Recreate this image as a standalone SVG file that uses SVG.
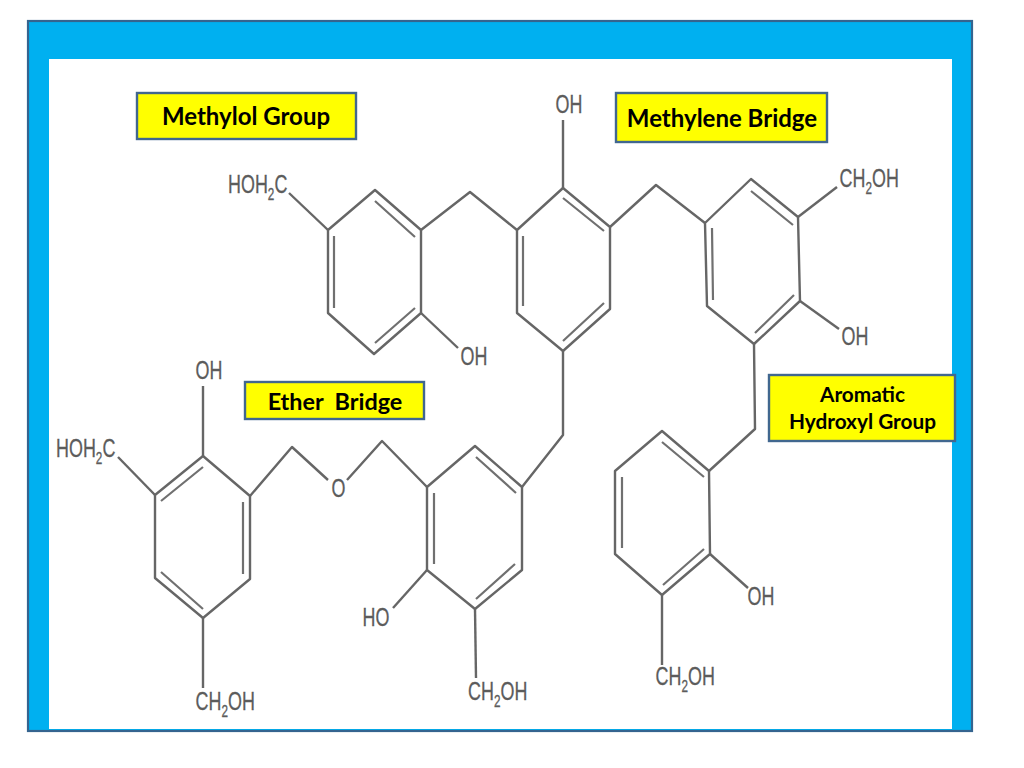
<svg xmlns="http://www.w3.org/2000/svg" width="1024" height="768" viewBox="0 0 1024 768">
<style>
.ring{fill:none;stroke:#666;stroke-width:2.4;stroke-linejoin:round}
.inner{fill:none;stroke:#707070;stroke-width:2.2}
.bond{fill:none;stroke:#666;stroke-width:2.4;stroke-linejoin:round}
.chem{font-family:"Liberation Sans",Arial,sans-serif;font-size:26px;fill:#5c5c5c;stroke:#5c5c5c;stroke-width:.3}
.sub{font-size:17px}
.box{fill:#ffff00;stroke:#41678f;stroke-width:2.4}
.tag{font-family:Lato,"Liberation Sans",sans-serif;font-weight:700;fill:#000;text-anchor:middle}
</style>
<rect id="frame" x="28" y="21" width="944" height="710" fill="#00b0f0" stroke="#35648f" stroke-width="2.2"/>
<rect id="panel" x="49" y="59" width="903" height="670" fill="#fff"/>

<g id="connectors">
<path class="bond" d="M289 193L328 230"/>
<path class="bond" d="M421 230L470 192L517 230"/>
<path class="bond" d="M421 313L458 348"/>
<path class="bond" d="M563 120V188"/>
<path class="bond" d="M610 227L656 185L705 223"/>
<path class="bond" d="M798 217L837 187"/>
<path class="bond" d="M800 301L839 329"/>
<path class="bond" d="M754 344L755 429L709 471"/>
<path class="bond" d="M710 554L748 588"/>
<path class="bond" d="M662 595V665"/>
<path class="bond" d="M563 351V435L522 487"/>
<path class="bond" d="M427 570L393 608"/>
<path class="bond" d="M475 609L476 678"/>
<path class="bond" d="M427 487L382 441L347 480"/>
<path class="bond" d="M250 496L292 447L328 480"/>
<path class="bond" d="M203 386V456"/>
<path class="bond" d="M118 457L155 495"/>
<path class="bond" d="M203 618V688"/>
</g>

<g id="ring-a">
<polygon class="ring" points="375,190 421,230 421,313 374,354 328,313 328,230"/>
<path class="inner" d="M375 201L415 237M334 236V308M375 343L415 308"/>
</g>
<g id="ring-b">
<polygon class="ring" points="563,188 610,227 610,309 563,351 517,313 517,230"/>
<path class="inner" d="M563 198L604 231M523 236V306M563 341L604 303"/>
</g>
<g id="ring-c">
<polygon class="ring" points="751,179 798,217 800,301 754,344 707,306 705,223"/>
<path class="inner" d="M751 191L793 225M712 228L713 300M755 333L794 295"/>
</g>
<g id="ring-d">
<polygon class="ring" points="662,431 709,471 710,554 662,595 615,554 615,471"/>
<path class="inner" d="M662 442L704 477M622 477V548M663 585L704 549"/>
</g>
<g id="ring-e">
<polygon class="ring" points="475,446 522,487 522,570 475,609 427,570 427,487"/>
<path class="inner" d="M476 457L516 493M434 493V564M476 599L515 564"/>
</g>
<g id="ring-f">
<polygon class="ring" points="203,456 250,496 250,579 203,618 155,578 155,495"/>
<path class="inner" d="M203 467L161 501M243 502V574M161 572L203 609"/>
</g>

<g id="atom-labels">
<text class="chem" transform="translate(555.500 113) scale(.69 1)">OH</text>
<text class="chem" transform="translate(228 193) scale(.69 1)">HOH<tspan class="sub" dy="7">2</tspan><tspan dy="-7">C</tspan></text>
<text class="chem" transform="translate(460.500 365) scale(.69 1)">OH</text>
<text class="chem" transform="translate(839.500 187) scale(.69 1)">CH<tspan class="sub" dy="7">2</tspan><tspan dy="-7">OH</tspan></text>
<text class="chem" transform="translate(841.500 345) scale(.69 1)">OH</text>
<text class="chem" transform="translate(195.500 379) scale(.69 1)">OH</text>
<text class="chem" transform="translate(56 457) scale(.69 1)">HOH<tspan class="sub" dy="7">2</tspan><tspan dy="-7">C</tspan></text>
<text class="chem" transform="translate(195.500 710) scale(.69 1)">CH<tspan class="sub" dy="7">2</tspan><tspan dy="-7">OH</tspan></text>
<text class="chem" transform="translate(331.500 497) scale(.69 1)">O</text>
<text class="chem" transform="translate(362.500 626) scale(.69 1)">HO</text>
<text class="chem" transform="translate(468 700) scale(.69 1)">CH<tspan class="sub" dy="7">2</tspan><tspan dy="-7">OH</tspan></text>
<text class="chem" transform="translate(655.500 685) scale(.69 1)">CH<tspan class="sub" dy="7">2</tspan><tspan dy="-7">OH</tspan></text>
<text class="chem" transform="translate(747.500 605) scale(.69 1)">OH</text>
</g>

<g id="methylol-group">
<rect class="box" x="137" y="93" width="219" height="46"/>
<text class="tag" x="246" y="125" font-size="24">Methylol Group</text>
</g>
<g id="methylene-bridge">
<rect class="box" x="616" y="93" width="211" height="49"/>
<text class="tag" x="722" y="127" font-size="24">Methylene Bridge</text>
</g>
<g id="ether-bridge">
<rect class="box" x="245" y="382" width="179" height="37"/>
<text class="tag" x="335" y="410" font-size="23.400" xml:space="preserve">Ether  Bridge</text>
</g>
<g id="aromatic-hydroxyl-group">
<rect class="box" x="769" y="375" width="186" height="66"/>
<text class="tag" x="862.500" y="402" font-size="20.800">Aromatic</text>
<text class="tag" x="862.500" y="429" font-size="20.800">Hydroxyl Group</text>
</g>
</svg>
